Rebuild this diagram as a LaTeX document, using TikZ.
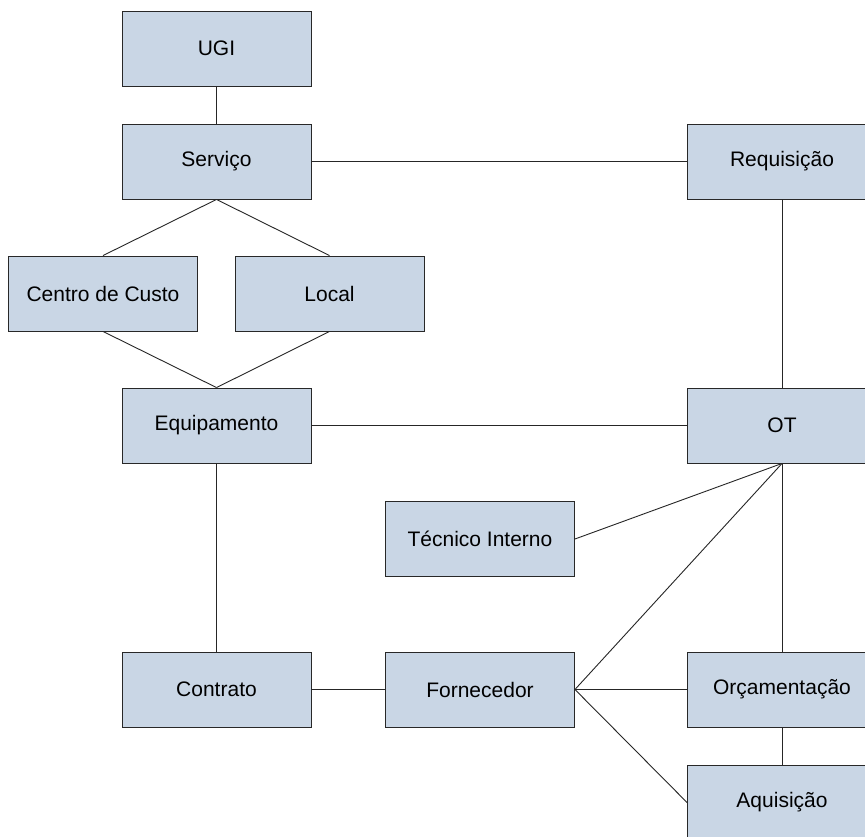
\documentclass[tikz,border=0pt]{standalone}
\usepackage{fontspec}
\setmainfont{Liberation Sans}
\definecolor{boxfill}{RGB}{201,214,229}
\definecolor{boxline}{RGB}{40,40,40}
\begin{document}
\begin{tikzpicture}[x=1pt,y=-1pt,
  entity/.style={draw=boxline, fill=boxfill, line width=0.9pt,
    minimum width=189pt, minimum height=75pt, inner sep=0pt,
    font=\fontsize{21}{25}\selectfont},
  link/.style={draw=black!85, line width=0.9pt}]
\useasboundingbox (0,0) rectangle (865,836);
\clip (0,0) rectangle (865,836);
\fill[white] (0,0) rectangle (865,836);

% entities
\node[entity] (ugi)   at (216.5,48.5)  {UGI};
\node[entity] (serv)  at (216.5,161.5) {Serviço};
\node[entity] (req)   at (782,161.5)   {Requisição};
\node[entity] (cc)    at (103,293.5)   {Centro de Custo};
\node[entity] (local) at (329.5,293.5) {Local};
\node[entity] (equip) at (216.5,425.5) {Equipamento};
\node[entity] (ot)    at (782,425.5)   {OT};
\node[entity] (tec)   at (480,539)     {Técnico Interno};
\node[entity] (contr) at (216.5,689.5) {Contrato};
\node[entity] (forn)  at (480,689.5)   {Fornecedor};
\node[entity] (orc)   at (782,689.5)   {Orçamentação};
\node[entity] (aquis) at (782,802.5)   {Aquisição};

% relationships
\draw[link] (ugi.south) -- (serv.north);
\draw[link] (serv.east) -- (req.west);
\draw[link] (serv.south) -- (cc.north);
\draw[link] (serv.south) -- (local.north);
\draw[link] (cc.south) -- (equip.north);
\draw[link] (local.south) -- (equip.north);
\draw[link] (equip.east) -- (ot.west);
\draw[link] (req.south) -- (ot.north);
\draw[link] (equip.south) -- (contr.north);
\draw[link] (ot.south) -- (tec.east);
\draw[link] (ot.south) -- (forn.east);
\draw[link] (ot.south) -- (orc.north);
\draw[link] (contr.east) -- (forn.west);
\draw[link] (forn.east) -- (orc.west);
\draw[link] (forn.east) -- (aquis.west);
\draw[link] (orc.south) -- (aquis.north);
\end{tikzpicture}
\end{document}
